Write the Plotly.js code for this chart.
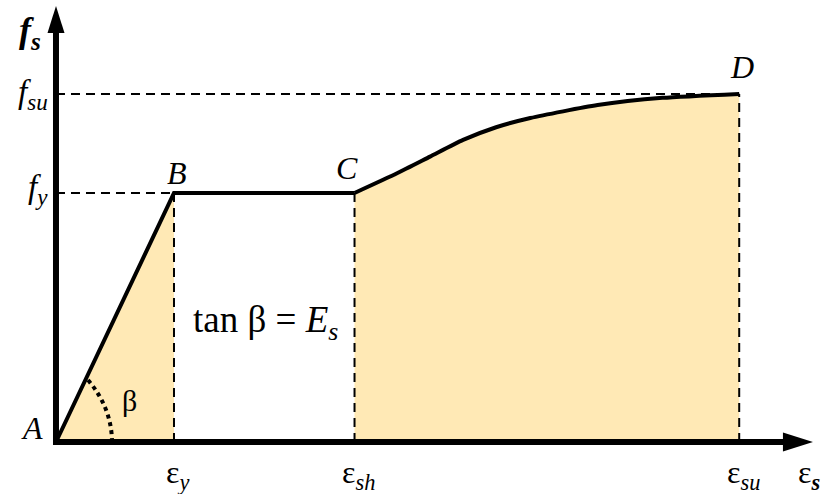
<!DOCTYPE html>
<html>
<head>
<meta charset="utf-8">
<script src="https://cdn.plot.ly/plotly-3.0.1.min.js"></script>
<style>
  html, body { margin: 0; padding: 0; background: #fff; }
  #chart { width: 827px; height: 494px; }
</style>
</head>
<body>
<div id="chart"></div>
<script>
// stress-strain curve of mild steel (normalised: eps_y = 1, f_y = 1)

var strain = [0, 1.0, 2.53, 2.89, 3.17, 3.45, 3.73, 4.02, 4.59, 5.14, 5.79];
var stress = [0, 1.0, 1.0, 1.079, 1.146, 1.213, 1.264, 1.301, 1.353, 1.382, 1.398];

var pointNames = ['A', 'B', 'C', 'D'];
var pointIdx = [0, 1, 2, 10];

var strainTicks = ['ε<sub><i>y</i></sub>', 'ε<sub><i>sh</i></sub>', 'ε<sub><i>su</i></sub>'];
var strainTickIdx = [1, 2, 10];
var stressTicks = ['<i>f</i><sub><i>su</i></sub>', '<i>f</i><sub><i>y</i></sub>'];
var stressTickIdx = [10, 1];

var xTip = 6.415;   // end of strain axis
var yTip = 1.751;   // end of stress axis

var epsY = strain[1], epsSh = strain[2], epsSu = strain[10];
var fy = stress[1], fsu = stress[10];

var fillCol = '#FFE9B5';
var font = 'Liberation Serif, DejaVu Serif, serif';

// fills
var elasticFill = {
  x: strain.slice(0, 2), y: stress.slice(0, 2),
  type: 'scatter', mode: 'none', fill: 'tozeroy', fillcolor: fillCol,
  hoverinfo: 'skip'
};
var hardenFill = {
  x: strain.slice(2), y: stress.slice(2),
  type: 'scatter', mode: 'none', fill: 'tozeroy', fillcolor: fillCol,
  line: {shape: 'spline', smoothing: 0.6}, hoverinfo: 'skip'
};

// curve
var elasticPlateau = {
  x: strain.slice(0, 3), y: stress.slice(0, 3),
  type: 'scatter', mode: 'lines',
  line: {color: 'black', width: 4}
};
var hardening = {
  x: strain.slice(2), y: stress.slice(2),
  type: 'scatter', mode: 'lines',
  line: {color: 'black', width: 4, shape: 'spline', smoothing: 0.6}
};

var dash = {color: 'black', width: 2, dash: '9px,6px'};

var shapes = [
  {type: 'line', x0: 0, x1: epsSu, y0: fsu, y1: fsu, line: dash},
  {type: 'line', x0: 0, x1: epsY, y0: fy, y1: fy, line: dash},
  {type: 'line', x0: epsY, x1: epsY, y0: 0, y1: fy, line: dash},
  {type: 'line', x0: epsSh, x1: epsSh, y0: 0, y1: fy, line: dash},
  {type: 'line', x0: epsSu, x1: epsSu, y0: 0, y1: fsu, line: dash},
  // axes
  {type: 'line', x0: -0.025, x1: xTip - 0.2, y0: 0, y1: 0, line: {color: 'black', width: 6}},
  {type: 'line', x0: 0, x1: 0, y0: -0.012, y1: yTip - 0.08, line: {color: 'black', width: 6}},
  {type: 'path', xsizemode: 'pixel', ysizemode: 'pixel', xanchor: xTip, yanchor: 0,
   path: 'M0,0 L-30,9.5 L-30,-9.5 Z', fillcolor: 'black', line: {width: 0}},
  {type: 'path', xsizemode: 'pixel', ysizemode: 'pixel', xanchor: 0, yanchor: yTip,
   path: 'M0,0 L-8.5,-27 L8.5,-27 Z', fillcolor: 'black', line: {width: 0}},
  // beta arc
  {type: 'path', xsizemode: 'pixel', ysizemode: 'pixel', xanchor: 0, yanchor: 0,
   path: 'M32,62 Q55,35 56,2', line: {color: 'black', width: 4, dash: 'dot'}}
];

var annotations = [];
var ptShift = [[-24, 14], [3, 20], [-8, 25], [3, 27]];
pointNames.forEach(function (n, i) {
  annotations.push({
    x: strain[pointIdx[i]], y: stress[pointIdx[i]], text: '<i>' + n + '</i>',
    showarrow: false, xshift: ptShift[i][0], yshift: ptShift[i][1],
    font: {family: font, size: 32, color: 'black'}
  });
});
strainTicks.forEach(function (t, i) {
  annotations.push({
    x: strain[strainTickIdx[i]], y: 0, text: t, showarrow: false,
    xshift: 4, yshift: -32, font: {family: font, size: 32, color: 'black'}
  });
});
annotations.push({
  x: xTip, y: 0, text: 'ε<sub><b><i>s</i></b></sub>', showarrow: false,
  xanchor: 'left', xshift: -17, yshift: -32, font: {family: font, size: 32, color: 'black'}
});
var stShift = [-1, 3];
stressTicks.forEach(function (t, i) {
  annotations.push({
    x: 0, y: stress[stressTickIdx[i]], text: t, showarrow: false,
    xanchor: 'right', xshift: -6, yshift: stShift[i],
    font: {family: font, size: 33, color: 'black'}
  });
});
annotations.push({
  x: 0, y: yTip, text: '<b><i>f</i></b><sub><b><i>s</i></b></sub>', showarrow: false,
  xshift: -26, yshift: -27, font: {family: font, size: 36, color: 'black'}
});
annotations.push({
  x: 0, y: 0, text: 'β', showarrow: false, xshift: 74, yshift: 42,
  font: {family: font, size: 30, color: 'black'}
});
annotations.push({
  x: (epsY + epsSh) / 2, y: 0, text: 'tan β&nbsp;=&nbsp;<i>E</i><sub><i>s</i></sub>', showarrow: false,
  xshift: 1, yshift: 120, font: {family: font, size: 37, color: 'black'}
});

var layout = {
  width: 827, height: 494,
  margin: {l: 20, r: 0, t: 0, b: 20},
  paper_bgcolor: 'white', plot_bgcolor: 'white',
  showlegend: false,
  xaxis: {range: [-0.305, 6.534], visible: false, fixedrange: true},
  yaxis: {range: [-0.1285, 1.775], visible: false, fixedrange: true},
  shapes: shapes,
  annotations: annotations
};

Plotly.newPlot('chart', [elasticFill, hardenFill, elasticPlateau, hardening], layout, {displayModeBar: false, staticPlot: true});
</script>
</body>
</html>
